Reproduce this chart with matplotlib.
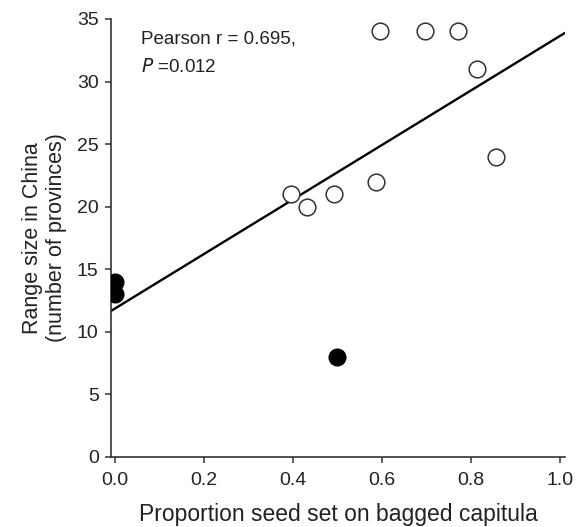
import numpy as np
import matplotlib
matplotlib.use("Agg")
from matplotlib import pyplot as plt

# species with self-compatible seed set (open) and the self-incompatible ones (filled)
open_x = [0.397, 0.432, 0.492, 0.588, 0.596, 0.697, 0.772, 0.813, 0.856]
open_y = [21, 20, 21, 22, 34, 34, 34, 31, 24]
filled_x = [0.0, 0.0, 0.5]
filled_y = [14, 13, 8]

x_ticks = [0.0, 0.2, 0.4, 0.6, 0.8, 1.0]
y_ticks = [0, 5, 10, 15, 20, 25, 30, 35]

plt.rcParams["font.family"] = ["Liberation Sans", "DejaVu Sans"]
text_col = "#222222"

fig = plt.figure(figsize=(5.85, 5.27), dpi=100)
ax = fig.add_axes([0.19, 0.133, 0.776, 0.831])

all_x = np.array(open_x + filled_x)
all_y = np.array(open_y + filled_y)
slope, intercept = np.polyfit(all_x, all_y, 1)
line_x = np.array([-0.008, 1.01])
ax.plot(line_x, slope * line_x + intercept, color="black", lw=1.7, zorder=2)

ax.plot(open_x, open_y, "o", ms=12, mfc="white", mec="#333333", mew=1.1, zorder=3)
ax.plot(filled_x, filled_y, "o", ms=12, mfc="black", mec="black", mew=1.0, zorder=3)

ax.set_xlim(-0.008, 1.012)
ax.set_ylim(0, 35)
ax.set_xticks(x_ticks)
ax.set_xticklabels([f"{v:.1f}" for v in x_ticks])
ax.set_yticks(y_ticks)

for side in ("top", "right"):
    ax.spines[side].set_visible(False)
for side in ("left", "bottom"):
    ax.spines[side].set_color("#333333")
    ax.spines[side].set_linewidth(1.2)
ax.tick_params(direction="out", length=4, width=1.1, color="#333333",
               labelsize=14, labelcolor=text_col)
ax.tick_params(axis="x", pad=7)
ax.tick_params(axis="y", pad=5)

ax.set_xlabel("Proportion seed set on bagged capitula", fontsize=16.5,
              color=text_col, labelpad=10)
ax.set_ylabel("Range size in China\n(number of provinces)", fontsize=15.5,
              color=text_col, labelpad=7, linespacing=1.2)

ax.text(0.06, 33.0, "Pearson r = 0.695,", fontsize=13.5, color=text_col)
ax.text(0.06, 30.8, "$\\it{P}$ =0.012", fontsize=13.5, color=text_col)

fig.savefig("out.png", dpi=100)
plt.close(fig)
